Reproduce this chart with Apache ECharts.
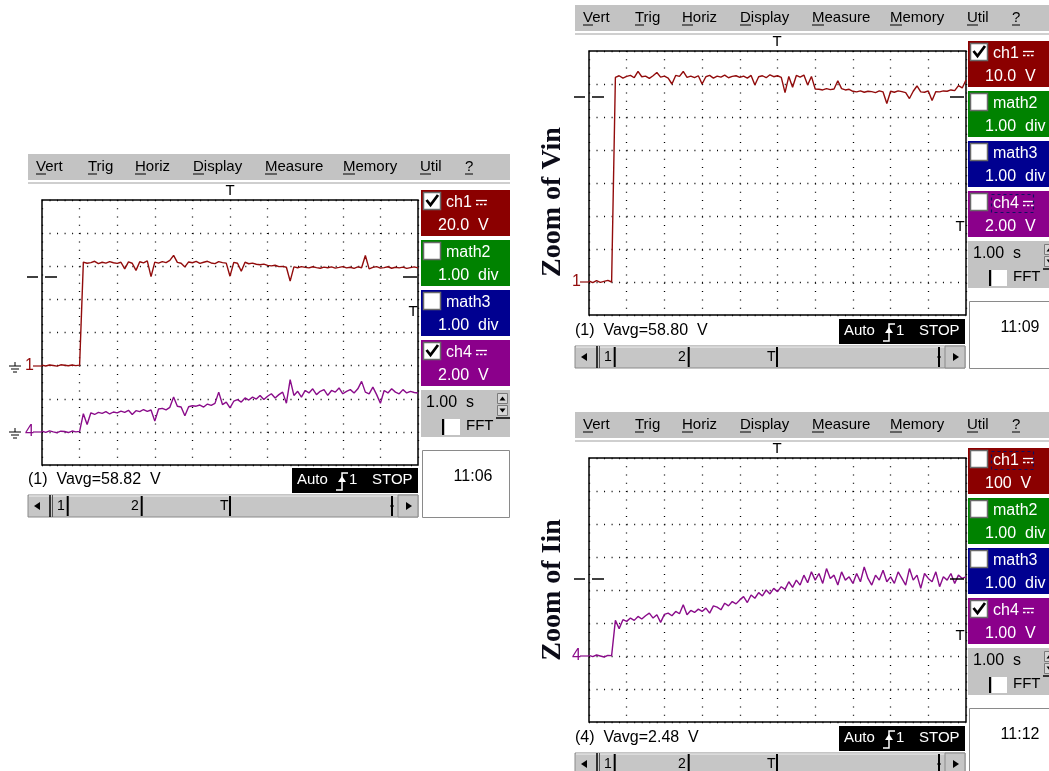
<!DOCTYPE html>
<html>
<head>
<meta charset="utf-8">
<title>Scope captures - Vin / Iin</title>
<script src="https://cdn.jsdelivr.net/npm/echarts@6/dist/echarts.min.js"></script>
<style>
  html, body { margin: 0; padding: 0; background: #fff; }
  #chart { width: 1049px; height: 771px; }
</style>
</head>
<body>
<div id="chart"></div>
<script>
// sample spacing in seconds (1.00 s/div, 10 div on screen)
const STEP = 0.1

// left capture: ch1 (V), 20 V/div
const LEFT_CH1 = [
  0.3, -0.2, 0.4, 0.1, -0.3, 0.5, 0.2, -0.1, 0.4, 0.0,
  0.3, 62.5, 61.8, 62.2, 63.0, 61.6, 62.4, 61.9, 62.8, 62.1,
  61.7, 62.4, 58.4, 62.6, 61.8, 57.5, 62.7, 62.0, 63.2, 53.7,
  62.5, 61.9, 62.8, 62.2, 63.5, 66.6, 62.3, 61.8, 59.6, 62.6,
  62.1, 62.9, 61.7, 62.4, 63.0, 62.0, 61.6, 62.8, 62.2, 61.9,
  54.0, 62.3, 61.8, 57.0, 62.4, 61.5, 61.9, 61.2, 60.9, 61.3,
  60.5, 60.2, 60.6, 59.8, 59.9, 59.4, 51.0, 59.6, 59.1, 59.8,
  59.3, 59.0, 59.7, 59.2, 58.8, 59.5, 59.1, 59.6, 58.9, 59.3,
  59.8, 59.0, 59.4, 58.7, 59.6, 59.1, 66.5, 58.4, 59.3, 59.8,
  58.9, 59.2, 59.7, 58.8, 59.4, 59.0, 59.5, 58.7, 59.2, 59.6,
  59.0
]
// left capture: ch4 (V), 2 V/div
const LEFT_CH4 = [
  0.05, -0.03, 0.06, 0.0, -0.05, 0.04, 0.02, -0.04, 0.05, 0.0,
  0.03, 1.10, 0.45, 1.15, 1.05, 1.18, 1.12, 1.22, 1.08, 1.20,
  1.15, 1.25, 1.18, 1.30, 1.05, 1.28, 1.22, 1.35, 1.24, 1.32,
  0.65, 1.38, 1.42, 1.33, 1.48, 2.10, 1.55, 1.50, 0.97, 1.52,
  1.58, 1.55, 1.62, 1.50, 1.68, 1.60, 1.72, 2.40, 1.65, 1.80,
  1.45, 1.85, 1.95, 1.80, 2.05, 1.92, 2.10, 1.98, 2.20, 1.95,
  2.15, 2.30, 2.05, 2.25, 2.40, 1.73, 3.15, 2.20, 2.45, 2.10,
  2.50, 2.35, 2.60, 2.25, 2.45, 2.55, 2.20, 2.50, 2.40, 2.65,
  2.30, 2.45, 2.55, 2.35, 2.60, 3.05, 2.40, 2.30, 2.70, 2.25,
  1.73, 2.50, 2.35, 2.60, 2.40, 2.30, 2.55, 2.35, 2.45, 2.38,
  2.35
]
// zoom of Vin: ch1 (V), 10 V/div
const VIN_CH1 = [
  0.3, -0.2, 0.4, -0.1, 0.2, 0.5, 0.0, 62.0, 62.5, 61.8,
  62.3, 62.6, 61.9, 63.8, 62.2, 62.4, 61.7, 62.5, 63.5, 62.1,
  62.4, 61.8, 60.0, 62.6, 62.3, 63.8, 62.0, 62.4, 61.9, 62.5,
  60.0, 62.2, 62.6, 61.8, 62.4, 62.1, 62.7, 61.9, 62.3, 62.5,
  62.0, 62.4, 61.8, 62.6, 59.7, 62.2, 62.5, 61.9, 62.8, 62.2,
  62.5, 62.0, 57.4, 62.3, 59.0, 62.6, 62.1, 62.7, 59.7, 62.3,
  58.5, 58.4, 58.2, 58.6, 58.3, 58.5, 61.0, 58.6, 58.2, 58.4,
  57.8, 57.6, 57.9, 57.5, 57.8, 57.7, 57.4, 57.9, 57.6, 54.1,
  57.8, 57.5, 57.9, 57.7, 57.4, 55.6, 57.8, 59.4, 57.6, 57.5,
  57.9, 55.0, 57.7, 57.6, 57.9, 57.8, 58.2, 58.0, 59.5, 58.8,
  61.2
]
// zoom of Iin: ch4 (V), 1 V/div
const IIN_CH4 = [
  0.02, -0.02, 0.03, 0.0, -0.03, 0.02, 0.01, 1.08, 0.83, 1.10,
  1.05, 1.15, 1.08, 1.20, 1.12, 1.22, 1.30, 1.15, 1.25, 1.02,
  1.26, 1.30, 1.22, 1.35, 1.28, 1.55, 1.25, 1.38, 1.32, 1.42,
  1.35, 1.45, 1.30, 1.52, 1.48, 1.40, 1.60, 1.52, 1.65, 1.58,
  1.70, 1.80, 1.62, 1.85, 1.75, 1.92, 1.82, 2.00, 1.88, 2.05,
  1.95, 2.10, 2.02, 2.25, 2.08, 2.30, 2.15, 2.45, 2.22, 2.55,
  2.30, 2.50, 2.20, 2.65, 2.35, 2.45, 2.15, 2.55, 2.30, 2.40,
  2.20, 2.50, 2.25, 2.70, 2.35, 2.15, 2.45, 2.30, 2.60, 2.25,
  2.40, 2.20, 2.55, 2.35, 2.15, 2.65, 2.30, 2.45, 2.05, 2.50,
  2.35, 2.25, 2.55, 2.10, 2.40, 2.30, 2.50, 2.20, 2.45, 2.35,
  2.40
]

const MENU = ['Vert', 'Trig', 'Horiz', 'Display', 'Measure', 'Memory', 'Util', '?']
const TITLES = ['Zoom of Vin', 'Zoom of Iin']

const RED = '#8b0000'
const GREEN = '#008200'
const BLUE = '#000090'
const PURPLE = '#8b008b'
const TRACE_RED = '#920c0c'
const TRACE_PURPLE = '#8a0c8a'
const FONT = '"Liberation Sans", Arial, sans-serif'

const toXY = (arr) => arr.map((v, i) => [i * STEP, v])

// ---- drawing helpers for the scope chrome ----
const text = (x, y, s, o) => ({
  type: 'text', x, y, z: 50, silent: true,
  style: Object.assign({ text: s, fill: '#000', font: '15px ' + FONT, textVerticalAlign: 'middle' }, o || {})
})
const rect = (x, y, w, h, st) => ({ type: 'rect', z: 50, silent: true, shape: { x, y, width: w, height: h }, style: st })
const line = (x1, y1, x2, y2, st) => ({
  type: 'line', z: 50, silent: true, shape: { x1, y1, x2, y2 },
  style: Object.assign({ stroke: '#000', lineWidth: 1 }, st || {})
})
const poly = (pts, st) => ({ type: 'polygon', z: 50, silent: true, shape: { points: pts }, style: st })
const pline = (pts, st) => ({ type: 'polyline', z: 50, silent: true, shape: { points: pts }, style: Object.assign({ fill: null }, st) })

// one scope screen, (ox, oy) = top-left of the plot box
function scopePanel (ox, oy, cfg) {
  const el = []
  // menu bar
  el.push(rect(-14, -46, 482, 26, { fill: '#c3c3c3' }))
  el.push(rect(-14, -18, 482, 2, { fill: '#cfcfcf' }))
  const mx = [-6, 46, 93, 151, 223, 301, 378, 423]
  const mu = [10, 9, 11, 11, 12, 12, 11, 8]
  MENU.forEach((m, i) => {
    el.push(text(mx[i], -33, m))
    el.push(line(mx[i], -26, mx[i] + mu[i], -26, { lineWidth: 1 }))
  })
  // trigger position and levels
  el.push(text(188, -9, 'T', { textAlign: 'center' }))
  el.push(text(371, cfg.trigY, 'T', { textAlign: 'center' }))
  el.push(line(-15, cfg.refY, -4, cfg.refY, { lineWidth: 1.5 }))
  el.push(line(3, cfg.refY, 15, cfg.refY, { lineWidth: 1.5 }))
  el.push(line(361, cfg.refY, 375, cfg.refY, { lineWidth: 1.5 }))
  // channel ground markers
  cfg.markers.forEach(mk => {
    el.push(text(-12.5, mk.y, mk.label, { textAlign: 'center', fill: mk.color, font: '16px ' + FONT }))
    el.push(line(-9, mk.y, 0, mk.y, { stroke: mk.color, lineWidth: 1.2 }))
    if (mk.ground) {
      el.push(line(-27, mk.y - 4, -27, mk.y, { lineWidth: 1 }))
      el.push(line(-33, mk.y, -21, mk.y, { lineWidth: 1 }))
      el.push(line(-31, mk.y + 3, -23, mk.y + 3, { lineWidth: 1 }))
      el.push(line(-29, mk.y + 6, -25, mk.y + 6, { lineWidth: 1 }))
    }
  })
  // side panel: channel boxes
  const x0 = 379
  cfg.channels.forEach((c, i) => {
    const top = -10 + 50 * i
    el.push(rect(x0, top, 89, 46, { fill: c.color }))
    el.push(rect(x0 + 2.5, top + 2.5, 17, 17, { fill: '#fff', stroke: '#6a6a6a', lineWidth: 1.5 }))
    if (c.checked) {
      el.push(pline([[x0 + 5.5, top + 10], [x0 + 9.5, top + 15], [x0 + 17, top + 5]], { stroke: '#000', lineWidth: 2.8 }))
    }
    el.push(text(x0 + 25, top + 13, c.name, { fill: '#fff', font: '16px ' + FONT }))
    if (c.dc) {
      el.push(line(x0 + 55, top + 10.5, x0 + 66, top + 10.5, { stroke: '#fff', lineWidth: 1.3 }))
      el.push(line(x0 + 55, top + 14.5, x0 + 66, top + 14.5, { stroke: '#fff', lineWidth: 1.3, lineDash: [2.5, 1.5] }))
    }
    if (c.focus) {
      el.push(rect(x0 + 23.5, top + 3.5, 42, 18, { fill: null, stroke: '#101060', lineWidth: 1.2, lineDash: [3, 3] }))
    }
    el.push(text(x0 + 17, top + 36, c.value, { fill: '#fff', font: '16px ' + FONT }))
  })
  // timebase box
  el.push(rect(x0, 190, 89, 47, { fill: '#c3c3c3' }))
  el.push(text(x0 + 5, 203, '1.00  s', { font: '16px ' + FONT }))
  el.push(rect(x0 + 76.5, 193.5, 10, 10, { fill: '#d6d6d6', stroke: '#7a7a7a', lineWidth: 1 }))
  el.push(poly([[x0 + 78.5, 200.5], [x0 + 84.5, 200.5], [x0 + 81.5, 196.5]], { fill: '#000' }))
  el.push(rect(x0 + 76.5, 205.5, 10, 10, { fill: '#d6d6d6', stroke: '#7a7a7a', lineWidth: 1 }))
  el.push(poly([[x0 + 78.5, 208.5], [x0 + 84.5, 208.5], [x0 + 81.5, 212.5]], { fill: '#000' }))
  el.push(line(x0 + 75, 218, x0 + 89, 218, { lineWidth: 1.5 }))
  el.push(line(x0 + 22, 219, x0 + 22, 235, { lineWidth: 2 }))
  el.push(rect(x0 + 24, 219, 15, 16, { fill: '#fff' }))
  el.push(text(x0 + 45, 226, 'FFT'))
  // clock box
  el.push(rect(x0 + 1.5, 250.5, 87, 67, { fill: '#fff', stroke: '#8a8a8a', lineWidth: 1 }))
  el.push(text(x0 + 52, 277, cfg.clock, { textAlign: 'center', font: '16px ' + FONT }))
  // status line
  el.push(text(-14, 280, cfg.status, { font: '16px ' + FONT }))
  el.push(rect(250, 268, 126, 25, { fill: '#000' }))
  el.push(text(255, 280, 'Auto', { fill: '#fff' }))
  el.push(pline([[294, 290], [300, 290], [300, 273], [306, 273]], { stroke: '#fff', lineWidth: 1.5 }))
  el.push(poly([[296, 282], [304, 282], [300, 276]], { fill: '#fff' }))
  el.push(text(307, 280, '1', { fill: '#fff' }))
  el.push(text(330, 280, 'STOP', { fill: '#fff' }))
  // scroll bar
  el.push(rect(-14, 295, 390, 22, { fill: '#c6c6c6', stroke: '#8a8a8a', lineWidth: 1 }))
  el.push(line(-13, 296, 375, 296, { stroke: '#e2e2e2', lineWidth: 1.5 }))
  el.push(poly([[-8, 306], [-2, 302], [-2, 310]], { fill: '#000' }))
  el.push(line(8, 295, 8, 317, { lineWidth: 1.5 }))
  el.push(line(10.5, 295, 10.5, 317, { stroke: '#555', lineWidth: 1 }))
  const sm = [['1', 15, 25.7], ['2', 89, 99.7], ['T', 178, 188]]
  sm.forEach(s => {
    el.push(text(s[1], 306, s[0], { font: '14px ' + FONT }))
    el.push(line(s[2], 296, s[2], 316, { lineWidth: 2 }))
  })
  el.push(line(350, 296, 350, 316, { lineWidth: 2 }))
  el.push(line(348, 306, 352, 306, { lineWidth: 1 }))
  el.push(rect(356, 295, 20, 22, { fill: '#c6c6c6', stroke: '#8a8a8a', lineWidth: 1 }))
  el.push(poly([[364, 302], [364, 310], [370, 306]], { fill: '#000' }))
  return { type: 'group', x: ox, y: oy, children: el }
}

const chCh1 = (val, checked, focus) => ({ name: 'ch1', value: val, color: RED, checked, focus, dc: true })
const chMath = (n, color) => ({ name: 'math' + n, value: '1.00  div', color, checked: false, dc: false })
const chCh4 = (val, checked, focus) => ({ name: 'ch4', value: val, color: PURPLE, checked, focus, dc: true })

const panels = [
  scopePanel(42, 200, {
    trigY: 112, refY: 77, clock: '11:06', status: '(1)  Vavg=58.82  V',
    markers: [{ label: '1', y: 166, color: TRACE_RED, ground: true }, { label: '4', y: 232, color: TRACE_PURPLE, ground: true }],
    channels: [chCh1('20.0  V', true), chMath(2, GREEN), chMath(3, BLUE), chCh4('2.00  V', true)]
  }),
  scopePanel(589, 51, {
    trigY: 176, refY: 46, clock: '11:09', status: '(1)  Vavg=58.80  V',
    markers: [{ label: '1', y: 231, color: TRACE_RED }],
    channels: [chCh1('10.0  V', true), chMath(2, GREEN), chMath(3, BLUE), chCh4('2.00  V', false, true)]
  }),
  scopePanel(589, 458, {
    trigY: 178, refY: 121, clock: '11:12', status: '(4)  Vavg=2.48  V',
    markers: [{ label: '4', y: 198, color: TRACE_PURPLE }],
    channels: [chCh1('100  V', false, true), chMath(2, GREEN), chMath(3, BLUE), chCh4('1.00  V', true)]
  })
]

const sideTitles = TITLES.map((t, i) => ({
  type: 'text', x: 553, y: i === 0 ? 202 : 590, rotation: Math.PI / 2, z: 50, silent: true,
  style: { text: t, fill: '#0b0b18', font: 'bold 28px "Liberation Serif", "Times New Roman", serif', textAlign: 'center', textVerticalAlign: 'middle' }
}))

const gridBox = { show: true, borderColor: '#000', borderWidth: 1.5, backgroundColor: '#fff' }
const hidden = { axisLine: { show: false }, axisTick: { show: false }, axisLabel: { show: false } }
const vDots = { show: true, lineStyle: { color: '#000', width: 1.3, type: [1, 7.28] } }
const hDots = { show: true, lineStyle: { color: '#000', width: 1.3, type: [1, 6.53] } }

const chart = echarts.init(document.getElementById('chart'))
chart.setOption({
  animation: false,
  backgroundColor: '#fff',
  grid: [
    Object.assign({ left: 42, top: 200, width: 376, height: 265 }, gridBox),
    Object.assign({ left: 589, top: 51, width: 377, height: 264 }, gridBox),
    Object.assign({ left: 589, top: 458, width: 377, height: 264 }, gridBox)
  ],
  xAxis: [0, 1, 2].map(i => Object.assign({ gridIndex: i, type: 'value', min: 0, max: 10, interval: 1, splitLine: vDots }, hidden)),
  yAxis: [
    Object.assign({ gridIndex: 0, type: 'value', min: -60, max: 100, interval: 20, splitLine: hDots }, hidden),
    Object.assign({ gridIndex: 0, type: 'value', min: -2, max: 14, interval: 2, splitLine: { show: false } }, hidden),
    Object.assign({ gridIndex: 1, type: 'value', min: -10, max: 70, interval: 10, splitLine: hDots }, hidden),
    Object.assign({ gridIndex: 2, type: 'value', min: -2, max: 6, interval: 1, splitLine: hDots }, hidden)
  ],
  series: [
    { name: 'ch1', type: 'line', xAxisIndex: 0, yAxisIndex: 0, data: toXY(LEFT_CH1), color: TRACE_RED },
    { name: 'ch4', type: 'line', xAxisIndex: 0, yAxisIndex: 1, data: toXY(LEFT_CH4), color: TRACE_PURPLE },
    { name: 'Vin ch1', type: 'line', xAxisIndex: 1, yAxisIndex: 2, data: toXY(VIN_CH1), color: TRACE_RED },
    { name: 'Iin ch4', type: 'line', xAxisIndex: 2, yAxisIndex: 3, data: toXY(IIN_CH4), color: TRACE_PURPLE }
  ].map(s => Object.assign(s, { showSymbol: false, symbol: 'none', lineStyle: { width: 1.4, color: s.color }, clip: true })),
  graphic: { elements: panels.concat(sideTitles) }
})
</script>
</body>
</html>
